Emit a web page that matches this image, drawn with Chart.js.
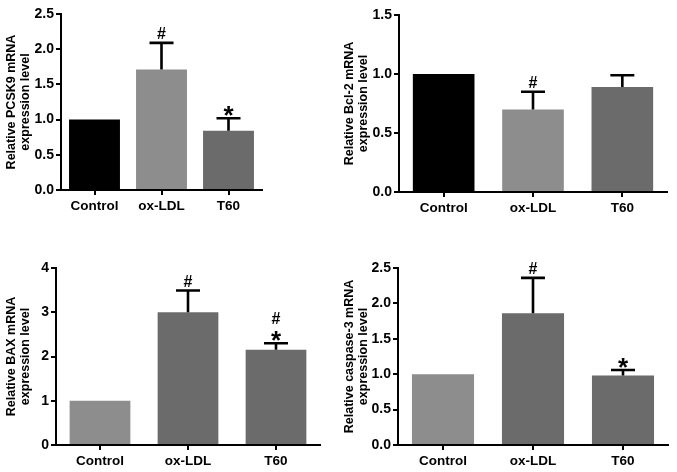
<!DOCTYPE html>
<html>
<head>
<meta charset="utf-8">
<script src="https://cdn.jsdelivr.net/npm/chart.js@4"></script>
<style>
  html, body { margin: 0; padding: 0; background: #fff; }
  body { width: 677px; height: 472px; position: relative; overflow: hidden; }
  canvas { position: absolute; }
</style>
</head>
<body>
<canvas id="pcsk9" width="338" height="236" style="left:0;top:0"></canvas>
<canvas id="bcl2" width="339" height="236" style="left:338px;top:0"></canvas>
<canvas id="bax" width="338" height="236" style="left:0;top:236px"></canvas>
<canvas id="casp3" width="339" height="236" style="left:338px;top:236px"></canvas>
<script>
// groups
const groups = ['Control', 'ox-LDL', 'T60'];

// mean values and upper error (SD)
const pcsk9Mean = [1.0, 1.71, 0.84];
const pcsk9Err = [0, 0.38, 0.18];
const pcsk9Marks = [[], ['#'], ['*']];

const bcl2Mean = [1.0, 0.70, 0.89];
const bcl2Err = [0, 0.15, 0.10];
const bcl2Marks = [[], ['#'], []];

const baxMean = [1.0, 3.0, 2.15];
const baxErr = [0, 0.49, 0.15];
const baxMarks = [[], ['#'], ['*', '#']];

const casp3Mean = [1.0, 1.86, 0.98];
const casp3Err = [0, 0.50, 0.08];
const casp3Marks = [[], ['#'], ['*']];

const BLACK = '#000000';
const LIGHT = '#8d8d8d';
const DARK = '#6b6b6b';

const FONT = 'Liberation Sans, Arial, sans-serif';

// dibuja barras de error (solo la parte superior) y los simbolos
const errorBarPlugin = {
    id: 'errorBars',
    afterDatasetsDraw(chart) {
        const ctx = chart.ctx;
        const ds = chart.data.datasets[0];
        const meta = chart.getDatasetMeta(0);
        const y = chart.scales.y;
        ctx.save();
        meta.data.forEach(function (bar, i) {
            const err = ds.errors[i];
            let top = y.getPixelForValue(ds.data[i] + err);
            if (err > 0) {
                ctx.strokeStyle = '#000';
                ctx.lineWidth = 2.6;
                ctx.beginPath();
                ctx.moveTo(bar.x, bar.y);
                ctx.lineTo(bar.x, top);
                ctx.moveTo(bar.x - 12, top);
                ctx.lineTo(bar.x + 12, top);
                ctx.stroke();
            } else {
                top = bar.y;
            }
            ctx.fillStyle = '#000';
            ctx.textAlign = 'center';
            ctx.textBaseline = 'alphabetic';
            let yy = top - 4;
            ds.marks[i].forEach(function (m) {
                if (m === '*') {
                    // el asterisco queda alto respecto a la linea base
                    ctx.font = 'bold 26px ' + FONT;
                    ctx.fillText('*', bar.x, yy + 10);
                    yy -= 15;
                } else {
                    ctx.font = 'bold 16px ' + FONT;
                    ctx.fillText('#', bar.x, yy);
                    yy -= 17;
                }
            });
        });
        ctx.restore();
    }
};

function makePanel(id, mean, err, marks, colors, title, max, step, decimals, area, barPct) {
    const canvas = document.getElementById(id);
    const W = canvas.width, H = canvas.height;
    return new Chart(canvas.getContext('2d'), {
        type: 'bar',
        data: {
            labels: groups,
            datasets: [{
                data: mean,
                errors: err,
                marks: marks,
                backgroundColor: colors,
                borderWidth: 0,
                barPercentage: barPct,
                categoryPercentage: 1
            }]
        },
        options: {
            responsive: false,
            animation: false,
            events: [],
            layout: { padding: { left: 0, top: area.top, right: W - area.right, bottom: 0 } },
            plugins: { legend: { display: false }, tooltip: { enabled: false } },
            scales: {
                x: {
                    offset: true,
                    border: { color: '#000', width: 2 },
                    grid: { display: true, drawOnChartArea: false, drawTicks: true, tickLength: 5, tickColor: '#000', lineWidth: 2, offset: false },
                    ticks: { color: '#000', font: { family: FONT, size: 13.5, weight: 'bold' }, padding: 3 },
                    afterFit: function (s) { s.height = H - area.bottom; }
                },
                y: {
                    min: 0,
                    max: max,
                    border: { color: '#000', width: 2 },
                    grid: { display: true, drawOnChartArea: false, drawTicks: true, tickLength: 5, tickColor: '#000', lineWidth: 2 },
                    ticks: {
                        stepSize: step,
                        color: '#000',
                        font: { family: FONT, size: 14, weight: 'bold' },
                        padding: 2,
                        callback: function (v) { return v.toFixed(decimals); }
                    },
                    title: {
                        display: true,
                        text: title,
                        color: '#000',
                        font: { family: FONT, size: 12.5, weight: 'bold', lineHeight: 1.15 },
                        padding: { top: 4, bottom: 2 }
                    },
                    afterFit: function (s) { s.width = area.left; }
                }
            }
        },
        plugins: [errorBarPlugin]
    });
}

makePanel('pcsk9', pcsk9Mean, pcsk9Err, pcsk9Marks, [BLACK, LIGHT, DARK],
    ['Relative PCSK9 mRNA', 'expression level'], 2.5, 0.5, 1,
    { left: 61, top: 14, right: 262, bottom: 190 }, 0.76);

makePanel('bcl2', bcl2Mean, bcl2Err, bcl2Marks, [BLACK, LIGHT, DARK],
    ['Relative Bcl-2 mRNA', 'expression level'], 1.5, 0.5, 1,
    { left: 61, top: 15, right: 329, bottom: 192 }, 0.69);

makePanel('bax', baxMean, baxErr, baxMarks, [LIGHT, DARK, DARK],
    ['Relative BAX mRNA', 'expression level'], 4, 1, 0,
    { left: 56, top: 32, right: 320, bottom: 209 }, 0.69);

makePanel('casp3', casp3Mean, casp3Err, casp3Marks, [LIGHT, DARK, DARK],
    ['Relative caspase-3 mRNA', 'expression level'], 2.5, 0.5, 1,
    { left: 60, top: 32, right: 330, bottom: 209 }, 0.69);
</script>
</body>
</html>
